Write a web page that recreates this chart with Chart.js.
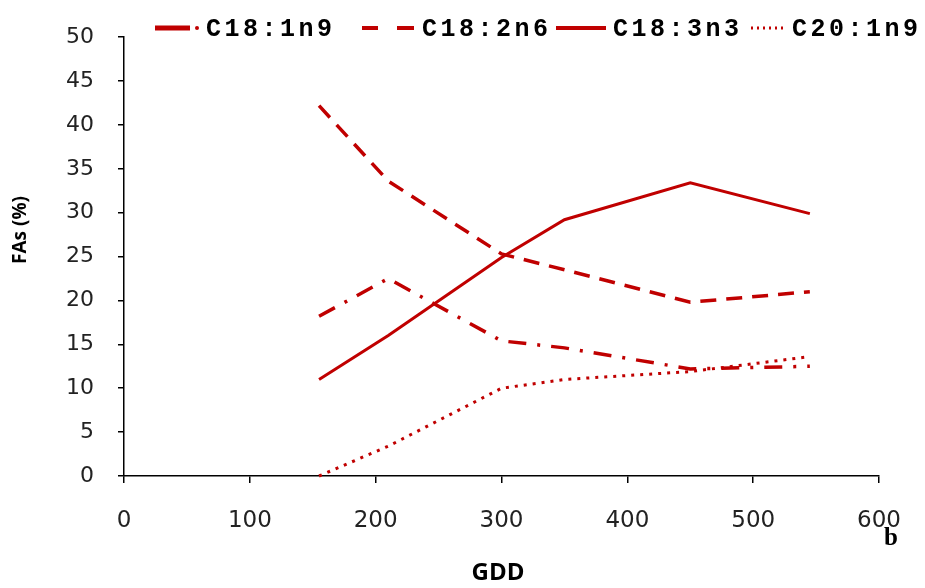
<!DOCTYPE html>
<html>
<head>
<meta charset="utf-8">
<script src="https://cdn.jsdelivr.net/npm/chart.js@4.4.1/dist/chart.umd.min.js"></script>
<style>
  body { margin: 0; background: #fff; }
  canvas { display: block; }
</style>
</head>
<body>
<canvas id="chart" width="925" height="588"></canvas>
<script>
// GDD values (x) and fatty acid percentages (y)
const gdd = [155, 210, 300, 350, 450, 545];
const c18_1n9 = [18.2, 22.5, 15.4, 14.6, 12.2, 12.5];
const c18_2n6 = [42.2, 33.6, 25.3, 23.5, 19.8, 21.0];
const c18_3n3 = [11.0, 16.0, 24.9, 29.2, 33.4, 29.9];
const c20_1n9 = [0, 3.4, 10.0, 11.0, 11.9, 13.6];
const seriesNames = ["C18:1n9", "C18:2n6", "C18:3n3", "C20:1n9"];

const red = "#c00000";
const toPoints = (ys) => ys.map((y, i) => ({ x: gdd[i], y: y }));

// legend + extra labels drawn on the canvas
const extras = {
  id: "extras",
  afterDraw(chart) {
    const c = chart.ctx;
    c.save();
    c.strokeStyle = red;
    c.fillStyle = red;
    c.lineCap = "butt";
    const ly = 28;

    // sample lines
    c.lineWidth = 5;
    c.beginPath(); c.moveTo(155, ly); c.lineTo(190, ly); c.stroke();
    c.beginPath(); c.arc(197, ly, 2, 0, Math.PI * 2); c.fill();
    c.lineWidth = 4;
    c.beginPath(); c.moveTo(362, ly); c.lineTo(378, ly); c.stroke();
    c.beginPath(); c.moveTo(397, ly); c.lineTo(414, ly); c.stroke();
    c.beginPath(); c.moveTo(556, ly); c.lineTo(606, ly); c.stroke();
    c.lineWidth = 3;
    c.setLineDash([2, 4]);
    c.beginPath(); c.moveTo(751, ly); c.lineTo(784, ly); c.stroke();
    c.setLineDash([]);

    // legend text, spaced out monospace
    c.fillStyle = "#000";
    c.font = "bold 25px 'Liberation Mono'";
    c.textBaseline = "alphabetic";
    const starts = [206, 422, 613, 792];
    seriesNames.forEach((name, k) => {
      [...name].forEach((ch, j) => {
        c.fillText(ch, starts[k] + j * 18.5, ly + 8);
      });
    });

    // axis titles
    c.font = "bold 24px 'Open Sans'";
    c.textAlign = "center";
    c.textBaseline = "middle";
    c.fillText("GDD", 498, 573);

    c.font = "bold 25px 'Liberation Serif'";
    c.fillText("b", 891, 539);

    c.save();
    c.translate(21, 230);
    c.rotate(-Math.PI / 2);
    c.font = "bold 19px 'Open Sans'";
    c.fillText("FAs (%)", 0, 0);
    c.restore();

    c.restore();
  },
};

const ctx = document.getElementById("chart").getContext("2d");
const chart = new Chart(ctx, {
  type: "line",
  data: {
    datasets: [
      {
        label: seriesNames[0],
        data: toPoints(c18_1n9),
        borderColor: red,
        borderWidth: 3.5,
        borderDash: [18, 11, 3, 11],
      },
      {
        label: seriesNames[1],
        data: toPoints(c18_2n6),
        borderColor: red,
        borderWidth: 3.5,
        borderDash: [16, 10],
      },
      {
        label: seriesNames[2],
        data: toPoints(c18_3n3),
        borderColor: red,
        borderWidth: 3,
      },
      {
        label: seriesNames[3],
        data: toPoints(c20_1n9),
        borderColor: red,
        borderWidth: 3,
        borderDash: [3, 6],
        clip: false,
      },
    ],
  },
  options: {
    responsive: false,
    animation: false,
    devicePixelRatio: 1,
    elements: {
      point: { radius: 0 },
      line: { tension: 0, fill: false },
    },
    layout: { padding: { left: 0, right: 45, top: 21, bottom: 0 } },
    plugins: {
      legend: { display: false },
      tooltip: { enabled: false },
    },
    scales: {
      x: {
        type: "linear",
        min: 0,
        max: 600,
        afterFit: (s) => { s.height = 112; },
        ticks: {
          stepSize: 100,
          color: "#222",
          padding: 24,
          font: { family: "DejaVu Sans", size: 23 },
        },
        grid: {
          drawOnChartArea: false,
          drawTicks: true,
          tickLength: 7,
          color: "#000",
          lineWidth: 1.5,
        },
        border: { display: true, color: "#000", width: 1.5 },
      },
      y: {
        min: 0,
        max: 50,
        afterFit: (s) => { s.width = 124; },
        ticks: {
          stepSize: 5,
          color: "#222",
          padding: 24,
          font: { family: "DejaVu Sans", size: 22 },
        },
        grid: {
          drawOnChartArea: false,
          drawTicks: true,
          tickLength: 6,
          color: "#000",
          lineWidth: 1.5,
        },
        border: { display: true, color: "#000", width: 1.5 },
      },
    },
  },
  plugins: [extras],
});
</script>
</body>
</html>
